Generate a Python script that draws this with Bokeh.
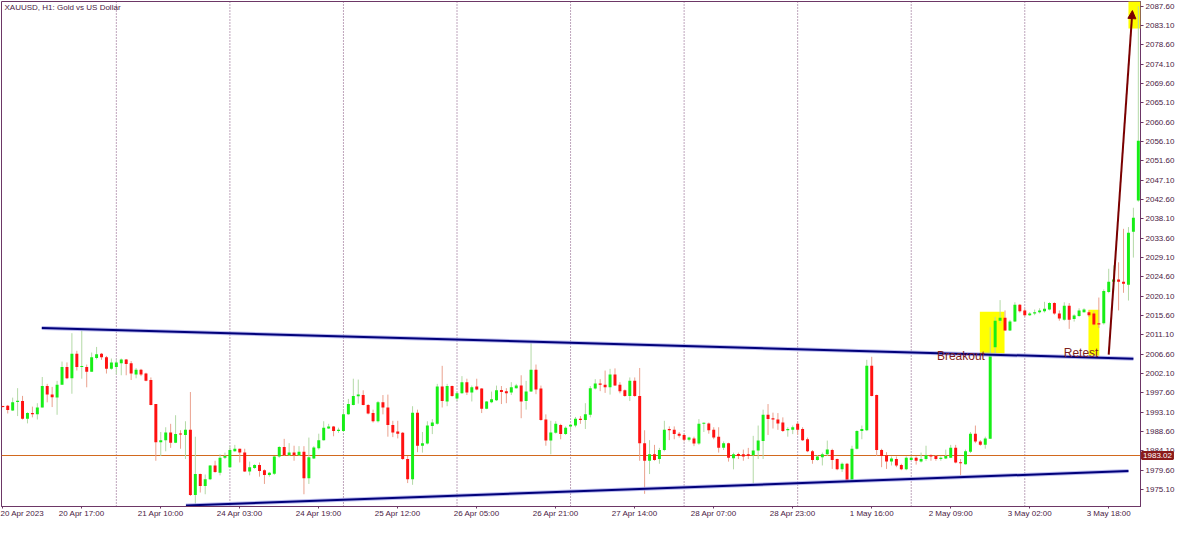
from bokeh.plotting import figure
from bokeh.models import (Range1d, FixedTicker, ColumnDataSource, Span, Label,
                          Arrow, NormalHead, NumeralTickFormatter)
from bokeh.embed import file_html
from bokeh.resources import INLINE

# ---------------- data (hourly XAUUSD candles, index 0 = 20 Apr 2023 01:00) ----------------
opens = [1994.5, 1994.6, 1993.5, 1995.5, 1995.7, 1991.6, 1992.9, 1992.6, 1994.2, 1999.2,
         1997.2, 1996.5, 1999.5, 2003.6, 2001.0, 2006.7, 2003.6, 2003.6, 2002.5, 2005.7,
         2006.7, 2005.9, 2003.2, 2003.6, 2004.5, 2005.4, 2004.5, 2001.9, 2003.0, 2002.1,
         2000.6, 1995.0, 1986.1, 1986.6, 1988.4, 1986.0, 1988.1, 1987.8, 1989.0, 1973.8,
         1978.7, 1975.9, 1977.5, 1980.7, 1979.0, 1982.5, 1980.3, 1984.0, 1984.6, 1983.7,
         1979.3, 1980.1, 1980.8, 1979.6, 1978.5, 1978.8, 1982.8, 1985.0, 1983.1, 1983.7,
         1983.1, 1983.9, 1977.7, 1982.3, 1984.7, 1986.6, 1989.3, 1989.8, 1988.7, 1988.7,
         1992.6, 1994.8, 1996.8, 1997.1, 1994.8, 1992.9, 1991.0, 1995.4, 1994.2, 1990.1,
         1988.6, 1988.3, 1982.2, 1977.5, 1993.0, 1985.3, 1985.8, 1989.9, 1990.4, 1999.1,
         1995.6, 1999.2, 1996.3, 1997.5, 2000.1, 1997.7, 1999.1, 1998.6, 1993.9, 1995.4,
         1995.9, 1998.3, 1998.0, 1997.7, 1998.7, 1999.3, 1995.7, 1997.9, 2003.0, 1998.6,
         1991.4, 1986.5, 1988.3, 1990.1, 1988.0, 1989.8, 1990.0, 1991.6, 1991.3, 1992.5,
         1998.6, 1999.8, 1999.5, 1998.9, 2001.9, 1999.5, 1998.2, 1996.9, 2000.4, 1996.9,
         1985.9, 1981.8, 1983.3, 1982.2, 1984.3, 1989.2, 1989.0, 1988.1, 1987.8, 1986.7,
         1987.0, 1985.8, 1990.4, 1990.5, 1989.0, 1987.4, 1984.8, 1985.9, 1982.4, 1983.4,
         1983.3, 1983.3, 1983.1, 1984.2, 1986.4, 1992.5, 1991.7, 1991.4, 1990.7, 1988.9,
         1989.0, 1990.4, 1989.2, 1986.8, 1984.0, 1982.0, 1982.6, 1983.3, 1984.3, 1982.2,
         1979.8, 1981.1, 1977.1, 1984.6, 1988.7, 1988.9, 2003.9, 1997.1, 1984.3, 1983.1,
         1981.6, 1982.2, 1980.8, 1979.8, 1982.0, 1982.5, 1981.6, 1982.2, 1983.1, 1982.9,
         1982.2, 1982.3, 1982.5, 1984.8, 1981.4, 1981.0, 1983.9, 1988.1, 1986.3, 1985.5,
         1986.9, 2008.2, 2014.4, 2015.1, 2012.1, 2014.2, 2018.1, 2016.8, 2015.7, 2016.1,
         2016.4, 2016.6, 2017.0, 2018.5, 2016.1, 2014.6, 2017.9, 2014.8, 2015.5, 2016.4,
         2016.4, 2016.1, 2013.8, 2013.8, 2021.1, 2023.5, 2024.0, 2023.5, 2022.8, 2035.1,
         2042.4]
highs = [1994.6, 1994.8, 1996.5, 1998.7, 1996.9, 1993.1, 1994.4, 1995.2, 2001.3, 1999.7,
         1999.0, 2000.4, 2004.9, 2004.7, 2011.5, 2007.4, 2012.2, 2004.2, 2007.0, 2008.3,
         2006.9, 2006.2, 2005.6, 2005.4, 2005.6, 2005.5, 2005.0, 2003.4, 2003.2, 2002.3,
         2001.2, 1995.0, 1988.5, 1989.6, 1990.4, 1992.4, 1988.9, 1991.0, 1997.8, 1987.4,
         1978.8, 1978.6, 1980.8, 1981.8, 1983.3, 1983.7, 1985.2, 1985.5, 1984.6, 1984.6,
         1981.6, 1981.0, 1981.4, 1979.8, 1979.2, 1982.9, 1985.2, 1986.9, 1985.9, 1985.3,
         1985.2, 1985.2, 1987.2, 1985.2, 1988.1, 1991.0, 1990.4, 1989.9, 1989.5, 1993.7,
         1996.2, 2000.9, 2000.7, 1998.2, 1995.0, 1993.7, 1995.7, 1997.1, 1997.2, 1991.1,
         1991.1, 1988.5, 1982.9, 1994.5, 1993.7, 1988.5, 1991.0, 1991.5, 1999.7, 2003.9,
         1999.7, 1999.3, 1997.8, 2001.5, 2000.9, 1999.3, 2000.9, 1998.7, 1995.7, 1997.9,
         1999.3, 1999.2, 1998.7, 2000.1, 1999.7, 2001.7, 2000.4, 2009.4, 2004.2, 1999.3,
         1992.6, 1991.1, 1991.0, 1990.4, 1989.8, 1990.4, 1992.0, 1992.2, 1995.2, 1999.2,
         2000.8, 2000.8, 2002.8, 2003.2, 2003.3, 2000.1, 1998.4, 2001.2, 2001.2, 2003.4,
         1988.9, 1986.6, 1985.5, 1984.8, 1991.1, 1989.8, 1989.8, 1988.5, 1988.1, 1987.4,
         1987.4, 1991.5, 1990.7, 1990.7, 1989.6, 1989.6, 1986.3, 1986.0, 1983.7, 1983.7,
         1984.4, 1984.8, 1987.6, 1990.0, 1993.7, 1995.0, 1993.0, 1992.9, 1991.9, 1989.6,
         1990.0, 1990.7, 1989.6, 1987.2, 1984.3, 1983.1, 1983.7, 1986.5, 1984.6, 1982.3,
         1981.4, 1981.3, 1985.3, 1988.9, 1990.0, 2005.3, 2006.0, 1997.2, 1984.6, 1983.8,
         1982.8, 1982.8, 1981.1, 1982.8, 1982.9, 1982.8, 1983.7, 1985.3, 1983.3, 1983.1,
         1982.8, 1984.4, 1985.5, 1985.5, 1982.2, 1984.4, 1988.5, 1990.0, 1986.6, 1987.4,
         2012.9, 2015.3, 2019.2, 2016.8, 2014.6, 2018.7, 2018.3, 2017.2, 2016.4, 2017.0,
         2017.3, 2018.8, 2018.7, 2018.7, 2016.8, 2018.7, 2018.5, 2015.9, 2017.3, 2017.3,
         2016.8, 2016.6, 2019.8, 2021.7, 2026.5, 2027.3, 2028.0, 2035.8, 2036.2, 2040.7,
         2087.6]
lows = [1994.2, 1992.8, 1993.4, 1992.2, 1991.4, 1990.5, 1991.9, 1991.4, 1994.2, 1995.4,
        1994.3, 1992.5, 1999.5, 2000.8, 1997.4, 2002.8, 2000.9, 1998.9, 2002.5, 2005.4,
        2005.3, 2002.1, 2003.0, 2001.9, 2001.7, 2001.7, 2000.6, 2001.0, 2001.5, 2000.3,
        1994.7, 1981.8, 1982.9, 1984.0, 1984.8, 1985.9, 1984.6, 1982.2, 1973.6, 1971.7,
        1974.4, 1974.0, 1977.3, 1979.0, 1978.4, 1982.2, 1980.3, 1983.9, 1981.4, 1979.2,
        1978.4, 1979.9, 1978.1, 1976.4, 1978.1, 1978.5, 1982.5, 1982.9, 1982.9, 1981.8,
        1982.9, 1974.0, 1976.4, 1982.2, 1984.4, 1986.5, 1989.2, 1987.5, 1988.3, 1988.5,
        1992.5, 1994.7, 1995.1, 1994.7, 1992.6, 1990.7, 1990.7, 1992.6, 1987.4, 1987.3,
        1987.0, 1982.0, 1976.6, 1976.2, 1983.8, 1983.7, 1985.6, 1988.0, 1990.2, 1994.2,
        1994.5, 1996.7, 1995.7, 1997.4, 1997.1, 1995.6, 1998.2, 1992.9, 1993.8, 1995.2,
        1995.7, 1995.0, 1995.2, 1997.1, 1998.6, 1991.7, 1993.7, 1997.8, 1997.3, 1991.1,
        1985.3, 1983.3, 1988.1, 1986.8, 1987.8, 1988.9, 1989.6, 1990.4, 1989.2, 1991.9,
        1998.4, 1998.0, 1997.6, 1997.2, 1999.2, 1997.5, 1996.7, 1995.7, 1996.7, 1981.8,
        1974.1, 1978.7, 1981.8, 1981.1, 1984.0, 1986.6, 1986.8, 1987.2, 1986.3, 1986.3,
        1985.2, 1985.5, 1988.5, 1988.1, 1986.8, 1983.7, 1984.3, 1981.6, 1979.8, 1982.2,
        1981.8, 1982.2, 1976.4, 1982.2, 1982.2, 1987.8, 1989.3, 1989.0, 1988.5, 1987.4,
        1988.0, 1987.8, 1986.4, 1983.8, 1981.1, 1981.8, 1980.7, 1982.9, 1979.9, 1979.6,
        1979.2, 1976.9, 1976.9, 1984.4, 1986.8, 1988.7, 1996.8, 1982.9, 1980.3, 1979.9,
        1980.7, 1980.3, 1979.6, 1979.6, 1981.8, 1980.9, 1981.4, 1981.8, 1981.8, 1981.8,
        1981.8, 1982.2, 1982.4, 1981.2, 1978.4, 1980.9, 1983.6, 1985.9, 1985.3, 1984.6,
        1986.9, 2006.4, 2013.8, 2012.0, 2012.0, 2014.1, 2016.3, 2015.3, 2015.5, 2015.7,
        2016.1, 2016.3, 2016.8, 2015.8, 2014.4, 2014.4, 2012.5, 2014.2, 2015.3, 2016.3,
        2015.3, 2013.3, 2012.7, 2013.5, 2020.8, 2020.9, 2016.8, 2020.9, 2019.1, 2029.1,
        2042.1]
closes = [1994.3, 1993.6, 1995.4, 1995.7, 1991.6, 1992.9, 1992.6, 1994.2, 1999.2, 1997.2,
          1996.6, 1999.5, 2003.6, 2001.0, 2006.7, 2003.6, 2003.8, 2002.5, 2005.9, 2006.6,
          2005.9, 2003.2, 2004.7, 2004.7, 2005.4, 2004.3, 2002.1, 2003.0, 2001.9, 2000.4,
          1994.8, 1986.1, 1986.6, 1988.4, 1986.0, 1988.0, 1987.9, 1989.0, 1973.8, 1978.7,
          1975.9, 1977.5, 1980.7, 1979.2, 1982.5, 1982.9, 1984.3, 1984.6, 1983.7, 1979.3,
          1980.3, 1980.8, 1979.4, 1978.5, 1979.0, 1982.8, 1985.0, 1983.1, 1983.7, 1983.1,
          1983.9, 1977.7, 1982.6, 1984.9, 1986.6, 1989.5, 1989.8, 1988.7, 1989.0, 1992.6,
          1995.0, 1996.9, 1997.2, 1994.8, 1992.8, 1991.0, 1995.4, 1994.2, 1990.1, 1988.4,
          1988.1, 1982.2, 1977.5, 1993.0, 1985.3, 1985.9, 1990.0, 1990.7, 1999.1, 1995.7,
          1999.2, 1996.9, 1997.5, 2000.1, 1997.7, 1998.9, 1998.4, 1993.9, 1995.6, 1996.1,
          1998.2, 1997.8, 1997.5, 1998.9, 1999.3, 1995.6, 1997.9, 2003.0, 1998.4, 1991.3,
          1986.5, 1988.4, 1990.4, 1988.0, 1989.5, 1990.2, 1991.6, 1991.3, 1992.6, 1998.7,
          1999.8, 1999.5, 1998.9, 2001.9, 1999.3, 1998.0, 1996.9, 2000.4, 1996.9, 1985.9,
          1981.8, 1983.3, 1982.0, 1984.3, 1989.0, 1988.9, 1988.0, 1987.6, 1986.7, 1987.2,
          1985.8, 1990.4, 1990.6, 1988.9, 1987.2, 1984.8, 1985.9, 1982.5, 1983.3, 1982.9,
          1982.8, 1982.9, 1984.2, 1986.5, 1992.5, 1991.5, 1991.4, 1990.5, 1988.7, 1989.2,
          1989.6, 1989.0, 1986.6, 1984.0, 1982.0, 1982.8, 1983.3, 1984.4, 1982.0, 1979.8,
          1981.1, 1977.1, 1984.6, 1988.7, 1989.2, 2003.9, 1996.9, 1984.3, 1982.9, 1981.6,
          1982.3, 1980.7, 1979.8, 1982.5, 1982.5, 1981.8, 1982.2, 1983.1, 1982.8, 1982.2,
          1982.5, 1982.9, 1984.8, 1981.4, 1981.2, 1984.0, 1988.1, 1986.3, 1985.5, 1987.0,
          2006.4, 2014.4, 2015.1, 2012.1, 2014.2, 2018.1, 2016.6, 2015.7, 2016.1, 2016.4,
          2016.8, 2017.2, 2018.5, 2016.1, 2014.9, 2017.9, 2014.6, 2015.6, 2016.8, 2017.0,
          2015.7, 2013.5, 2013.5, 2021.3, 2023.5, 2024.0, 2023.5, 2023.0, 2034.9, 2038.4,
          2056.3]

# first bar of each trading day (period separators)
day_start_idx = [23, 46, 69, 92, 115, 138, 161, 184, 207]

# time-axis labels (every 16 bars)
x_tick_idx = [0, 16, 32, 48, 64, 80, 96, 112, 128, 144, 160, 176, 192, 208, 224]
x_tick_labels = ["20 Apr 2023", "20 Apr 17:00", "21 Apr 10:00", "24 Apr 03:00", "24 Apr 19:00",
                 "25 Apr 12:00", "26 Apr 05:00", "26 Apr 21:00", "27 Apr 14:00", "28 Apr 07:00",
                 "28 Apr 23:00", "1 May 16:00", "2 May 09:00", "3 May 02:00", "3 May 18:00"]

# price-axis labels
price_ticks = [2087.60, 2083.10, 2078.60, 2074.10, 2069.60, 2065.10, 2060.60, 2056.10, 2051.60,
               2047.10, 2042.60, 2038.10, 2033.60, 2029.10, 2024.60, 2020.10, 2015.60, 2011.10,
               2006.60, 2002.10, 1997.60, 1993.10, 1988.60, 1984.10, 1979.60, 1975.10]

bid_price = 1983.02
bid_text = "1983.02"

# drawn objects (trend lines, highlight boxes, arrow)
upper_trend_x = [7.9, 229.0]
upper_trend_y = [2012.72, 2005.57]
lower_trend_x = [37.1, 228.0]
lower_trend_y = [1971.37, 1979.4]

box_left = [197.9, 219.9, 228.0]
box_right = [202.9, 222.1, 230.6]
box_top = [2016.5, 2016.97, 2088.8]
box_bottom = [2006.5, 2006.24, 2082.46]

arrow_start = (224.0, 2006.5)
arrow_end = (228.8, 2086.6)

# ---------------- styling ----------------
FG = "#6d3766"
TXT = "#4a1a44"
BULL = "#17ee17"
BEAR = "#ff1111"
BULL_WICK = "#b3d9a6"
BEAR_WICK = "#eaa18e"

n = len(opens)
idx = list(range(n))
tops, bottoms, body_col, wick_col = [], [], [], []
for o, c in zip(opens, closes):
    t, b = max(o, c), min(o, c)
    if t - b < 0.25:
        t = b + 0.25
    tops.append(t)
    bottoms.append(b)
    up = c >= o
    body_col.append(BULL if up else BEAR)
    wick_col.append(BULL_WICK if up else BEAR_WICK)

src = ColumnDataSource(dict(x=idx, high=highs, low=lows, top=tops, bottom=bottoms,
                            body=body_col, wick=wick_col))

X_END = 230.44
p = figure(width=1184, height=527,
           x_range=Range1d(-0.26, X_END), y_range=Range1d(1971.15, 2088.72),
           output_backend="svg", toolbar_location=None, y_axis_location="right",
           min_border_left=1, min_border_top=1, min_border_right=44, min_border_bottom=12)
p.xgrid.visible = False
p.ygrid.visible = False
p.outline_line_color = FG
p.outline_line_width = 1
p.background_fill_color = "white"
p.border_fill_color = "white"

# axes
p.yaxis.ticker = FixedTicker(ticks=price_ticks)
p.yaxis.formatter = NumeralTickFormatter(format="0.00")
p.yaxis.axis_line_color = FG
p.yaxis.axis_line_dash = "1 1"
p.yaxis.major_tick_line_color = FG
p.yaxis.major_tick_out = 3
p.yaxis.major_tick_in = 0
p.yaxis.minor_tick_line_color = None
p.yaxis.major_label_standoff = 2
p.yaxis.major_label_text_font = "Liberation Sans"
p.yaxis.major_label_text_font_size = "8px"
p.yaxis.major_label_text_color = TXT

p.xaxis.ticker = FixedTicker(ticks=x_tick_idx)
p.xaxis.major_label_overrides = {i: s for i, s in zip(x_tick_idx, x_tick_labels)}
p.xaxis.major_label_text_align = "left"
p.xaxis.axis_line_color = FG
p.xaxis.major_tick_line_color = FG
p.xaxis.major_tick_out = 2
p.xaxis.major_tick_in = 0
p.xaxis.minor_tick_line_color = None
p.xaxis.major_label_standoff = 0
p.xaxis.major_label_text_font = "Liberation Sans"
p.xaxis.major_label_text_font_size = "8px"
p.xaxis.major_label_text_color = TXT

# highlight boxes (behind candles)
p.quad(left=box_left, right=box_right, top=box_top, bottom=box_bottom,
       fill_color="#ffff00", line_color=None)

# period separators and bid line
for d in day_start_idx:
    p.add_layout(Span(location=d, dimension="height", line_color="#7d4a78",
                      line_dash="1 2", line_width=1, level="underlay"))
p.add_layout(Span(location=bid_price, dimension="width", line_color="#d2691e",
                  line_width=1, line_alpha=1.0, level="underlay"))

# candles
p.segment(x0="x", x1="x", y0="low", y1="high", line_color="wick", line_width=1, source=src)
p.vbar(x="x", top="top", bottom="bottom", width=0.6, fill_color="body",
       line_color=None, source=src)

# trend lines
for xs, ys in ((upper_trend_x, upper_trend_y), (lower_trend_x, lower_trend_y)):
    p.line(xs, ys, line_color="#a9a9e8", line_width=4, line_alpha=0.8)
    p.line(xs, ys, line_color="#00007a", line_width=2)

# arrow
p.add_layout(Arrow(end=NormalHead(size=8, fill_color="#7a0000", line_color="#7a0000"),
                   x_start=arrow_start[0], y_start=arrow_start[1],
                   x_end=arrow_end[0], y_end=arrow_end[1],
                   line_color="#7a0000", line_width=2))

# annotations
p.add_layout(Label(x=189.2, y=2006.3, text="Breakout", text_font="Liberation Sans",
                   text_font_size="12px", text_color="#7f1f1f", text_baseline="alphabetic"))
p.add_layout(Label(x=214.9, y=2007.0, text="Retest", text_font="Liberation Sans",
                   text_font_size="12px", text_color="#7f1f1f", text_baseline="alphabetic"))
p.add_layout(Label(x=0.35, y=2088.3, text="XAUUSD, H1:  Gold vs US Dollar",
                   text_font="Liberation Sans", text_font_size="8px", text_color=TXT,
                   text_baseline="top"))

# bid price tag over the price scale; placed in the bottom side panel so that it is
# not clipped to the frame (its position still follows the data scales)
p.add_layout(Label(x=230.75, y=bid_price, text=bid_text, text_font="Liberation Sans",
                   text_font_size="8px", text_color="white", text_baseline="middle",
                   background_fill_color="#8b1a1a", padding=1,
                   border_line_color="#8b1a1a", border_line_width=2), "below")

open("out.html", "w").write(file_html(p, INLINE))
